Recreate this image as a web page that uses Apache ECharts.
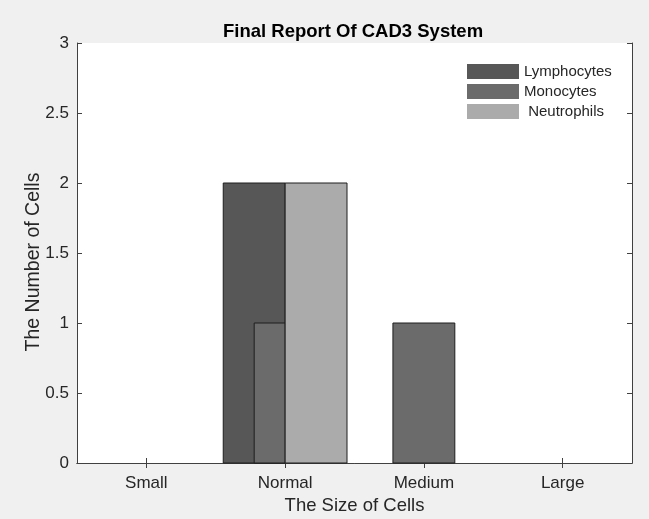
<!DOCTYPE html>
<html>
<head>
<meta charset="utf-8">
<script src="https://cdn.jsdelivr.net/npm/echarts@6/dist/echarts.min.js"></script>
<style>
  html, body { margin: 0; padding: 0; background: #f0f0f0; }
  #chart { width: 649px; height: 519px; }
</style>
</head>
<body>
<div id="chart"></div>
<script>
// data
const categories = ['Small', 'Normal', 'Medium', 'Large'];
const lymphocytes = [0, 2, 0, 0];
const monocytes = [0, 1, 1, 0];
const neutrophils = [0, 2, 0, 0];
const seriesNames = ['Lymphocytes', 'Monocytes', 'Neutrophils'];

// layout: horizontal span of each bar, in bar widths, relative to the category centre
const barRatio = 62 / 139;
const spans = {
  Lymphocytes: [[-1, 0], [-1, 0], [-1, 0], [-1, 0]],
  Monocytes: [[-0.5, 0], [-0.5, 0], [-0.5, 0.5], [-0.5, 0]],
  Neutrophils: [[0, 1], [0, 1], [0, 1], [0, 1]]
};
const colors = { Lymphocytes: '#575757', Monocytes: '#6b6b6b', Neutrophils: '#ababab' };

const font = "'Liberation Sans', Arial, sans-serif";
const axisColor = '#404040';
const textColor = '#262626';

const chart = echarts.init(document.getElementById('chart'));

function makeSeries(name, values) {
  return {
    name: name,
    type: 'custom',
    itemStyle: { color: colors[name] },
    encode: { x: 0, y: 1 },
    data: values.map((v, i) => [i, v]),
    renderItem: function (params, api) {
      const i = api.value(0);
      const v = api.value(1);
      if (!v) return null;
      const base = api.coord([i, 0]);
      const top = api.coord([i, v]);
      const w = api.size([1, 0])[0] * barRatio;
      const s = spans[name][i];
      const x0 = base[0] + s[0] * w;
      const x1 = base[0] + s[1] * w;
      return {
        type: 'rect',
        shape: { x: x0, y: top[1], width: x1 - x0, height: base[1] - top[1] },
        style: { fill: colors[name], stroke: '#1e1e1e', lineWidth: 1 }
      };
    }
  };
}

const tickStyle = { show: true, inside: true, length: 5, lineStyle: { color: axisColor } };

const option = {
  backgroundColor: '#f0f0f0',
  animation: false,
  title: {
    text: 'Final Report Of CAD3 System',
    left: 223,
    top: 22,
    padding: 0,
    textStyle: { fontFamily: font, fontSize: 18.5, fontWeight: 'bold', color: '#000', lineHeight: 20 }
  },
  legend: {
    orient: 'vertical',
    left: 455,
    top: 56,
    padding: [8, 10, 8, 12],
    backgroundColor: '#ffffff',
    itemWidth: 52,
    itemHeight: 15,
    itemGap: 5,
    icon: 'rect',
    itemStyle: { borderWidth: 0 },
    textStyle: { fontFamily: font, fontSize: 15, color: textColor },
    formatter: name => (name === 'Neutrophils' ? ' ' + name : name),
    data: seriesNames
  },
  grid: {
    left: 77, right: 17, top: 43, bottom: 56,
    outerBoundsMode: 'none',
    show: true, backgroundColor: '#ffffff', borderWidth: 0
  },
  xAxis: [
    {
      type: 'category',
      data: categories,
      position: 'bottom',
      name: 'The Size of Cells',
      nameLocation: 'middle',
      nameGap: 33,
      nameMoveOverlap: false,
      nameTextStyle: { fontFamily: font, fontSize: 18.5, color: textColor },
      axisLine: { show: true, lineStyle: { color: axisColor } },
      axisTick: Object.assign({ alignWithLabel: true }, tickStyle),
      axisLabel: { fontFamily: font, fontSize: 17, color: textColor, margin: 12 },
      splitLine: { show: false }
    },
    {
      type: 'category',
      data: categories,
      position: 'top',
      axisLine: { show: true, lineStyle: { color: axisColor } },
      axisTick: Object.assign({ alignWithLabel: true }, tickStyle),
      axisLabel: { show: false },
      splitLine: { show: false }
    }
  ],
  yAxis: [
    {
      type: 'value',
      min: 0, max: 3, interval: 0.5,
      position: 'left',
      name: 'The Number of Cells',
      nameLocation: 'middle',
      nameGap: 33,
      nameMoveOverlap: false,
      nameTextStyle: { fontFamily: font, fontSize: 19.5, color: textColor, padding: [0, 18, 0, 0] },
      axisLine: { show: true, lineStyle: { color: axisColor } },
      axisTick: tickStyle,
      axisLabel: { fontFamily: font, fontSize: 17, color: textColor, margin: 8 },
      splitLine: { show: false }
    },
    {
      type: 'value',
      min: 0, max: 3, interval: 0.5,
      position: 'right',
      axisLine: { show: true, lineStyle: { color: axisColor } },
      axisTick: tickStyle,
      axisLabel: { show: false },
      splitLine: { show: false }
    }
  ],
  series: [
    makeSeries('Lymphocytes', lymphocytes),
    makeSeries('Monocytes', monocytes),
    makeSeries('Neutrophils', neutrophils)
  ]
};

chart.setOption(option);
</script>
</body>
</html>
